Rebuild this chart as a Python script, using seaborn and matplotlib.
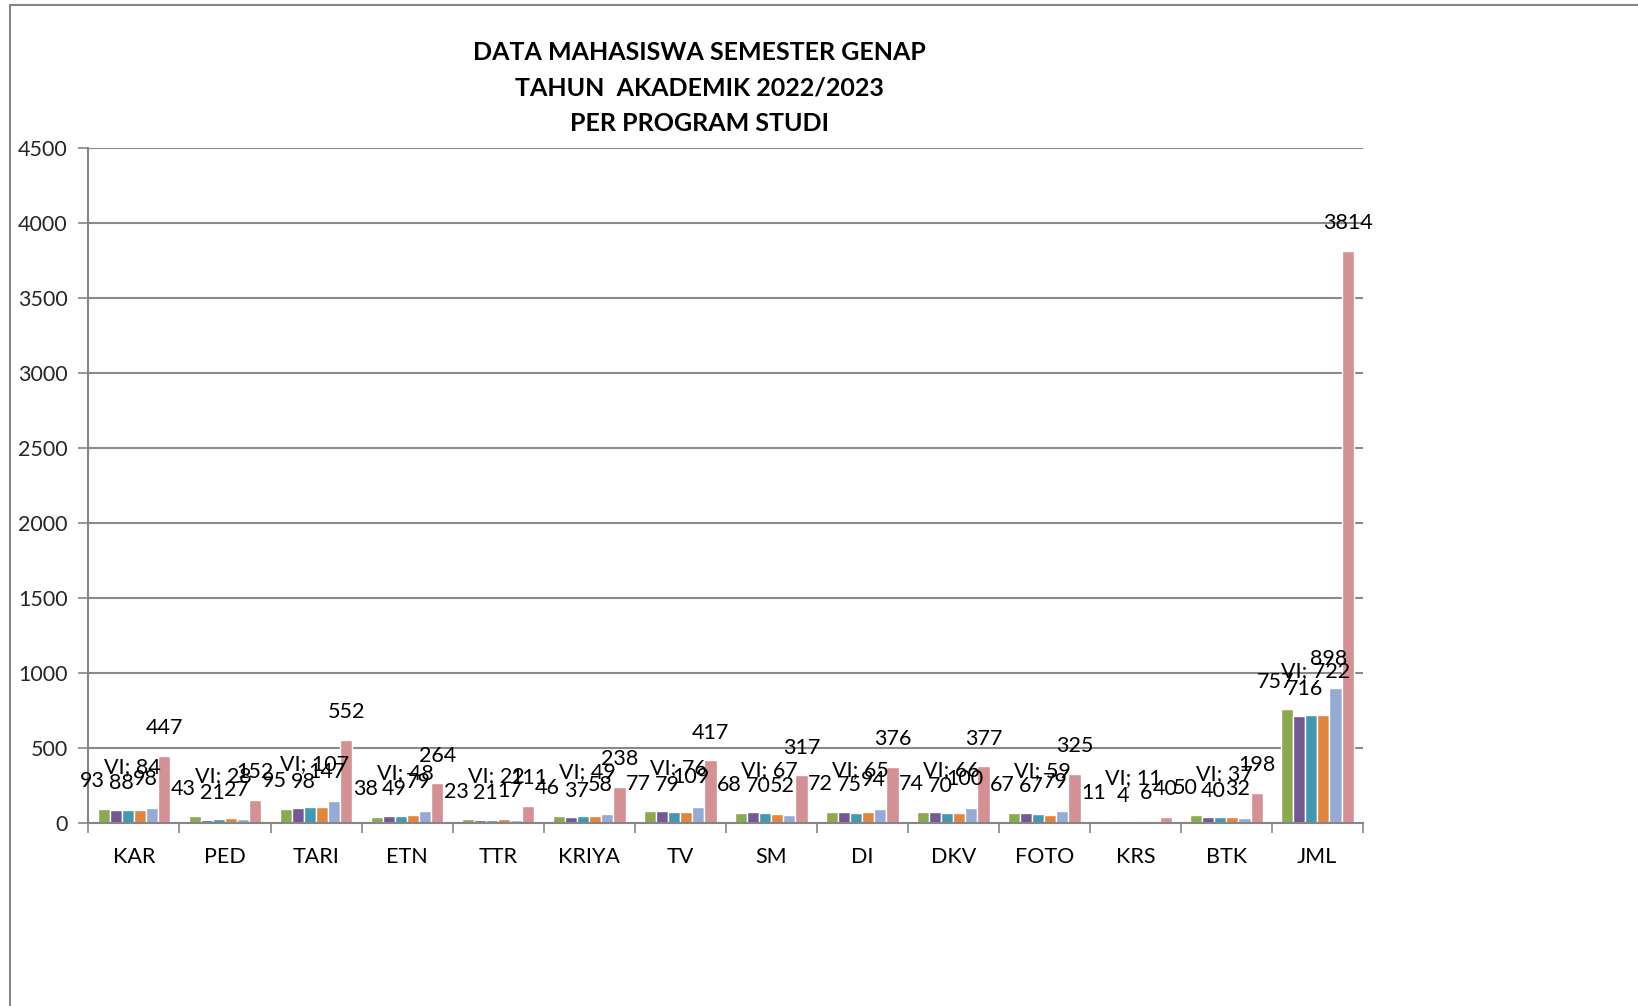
import matplotlib
matplotlib.use("Agg")
import matplotlib.pyplot as plt
from matplotlib.lines import Line2D
import seaborn as sns
import pandas as pd
import numpy as np

# ---------------- data ----------------
prodi = ["KAR", "PED", "TARI", "ETN", "TTR", "KRIYA", "TV", "SM", "DI", "DKV",
         "FOTO", "KRS", "BTK", "JML"]
series_names = ["II", "IV", "VI", "VIII", ">VIII", "JML"]
sem_II    = [93, 43, 95, 38, 23, 46, 77, 68, 72, 74, 67, 11, 50, 757]
sem_IV    = [88, 21, 98, 49, 21, 37, 79, 70, 75, 70, 67, 4, 40, 716]
sem_VI    = [84, 28, 107, 48, 22, 49, 76, 67, 65, 66, 59, 11, 37, 722]
sem_VIII  = [84, 33, 105, 50, 28, 48, 76, 60, 70, 67, 53, 8, 39, 721]
sem_gt    = [98, 27, 147, 79, 17, 58, 109, 52, 94, 100, 79, 6, 32, 898]
total     = [447, 152, 552, 264, 111, 238, 417, 317, 376, 377, 325, 40, 198, 3814]
y_ticks = [0, 500, 1000, 1500, 2000, 2500, 3000, 3500, 4000, 4500]
title_lines = ["DATA MAHASISWA SEMESTER GENAP", "TAHUN  AKADEMIK 2022/2023", "PER PROGRAM STUDI"]

colors = ["#8DA950", "#735895", "#4198AF", "#E1853D", "#95ABD3", "#D49194"]

all_series = [sem_II, sem_IV, sem_VI, sem_VIII, sem_gt, total]
rows = []
for name, vals in zip(series_names, all_series):
    for p, v in zip(prodi, vals):
        rows.append({"Prodi": p, "Semester": name, "Jumlah": v})
df = pd.DataFrame(rows)

# ---------------- plot ----------------
sns.set_theme(style="white")
plt.rcParams["font.family"] = ["Lato", "DejaVu Sans"]

fig = plt.figure(figsize=(16.38, 10.06), dpi=100)
ax = fig.add_axes([0.054, 0.182, 0.778, 0.671])

sns.barplot(data=df, x="Prodi", y="Jumlah", hue="Semester", order=prodi,
            hue_order=series_names, palette=colors, width=0.8, gap=0,
            errorbar=None, legend=False, ax=ax, saturation=1)

ax.set_xlim(-0.5, len(prodi) - 0.5)
ax.set_ylim(0, 4500)
ax.set_yticks(y_ticks)
ax.set_yticklabels([str(t) for t in y_ticks], fontsize=15.5)
ax.set_xticks(range(len(prodi)))
ax.set_xticklabels(prodi, fontsize=15.5)
ax.set_xticks(np.arange(-0.5, len(prodi)), minor=True)
ax.tick_params(axis="x", which="major", length=0, pad=17, colors="black")
ax.tick_params(axis="x", which="minor", length=7, width=1.2, color="#868686", direction="out", bottom=True)
ax.tick_params(axis="y", which="major", length=7, width=1.2, color="#868686", direction="out", left=True, pad=8)
ax.set_xlabel("")
ax.set_ylabel("")

ax.yaxis.grid(True, color="#8a8a8a", linewidth=1.5)
ax.set_axisbelow(True)
for s in ["top", "right"]:
    ax.spines[s].set_visible(False)
for s in ["left", "bottom"]:
    ax.spines[s].set_color("#868686")
    ax.spines[s].set_linewidth(1.5)

# data labels (series VIII has none, as in the reference)
x_off = [-8, 4, 3, 0, -5, 0]
y_off = [20, 19, 31, 0, 21, 20]
for i, cont in enumerate(ax.containers):
    if series_names[i] == "VIII":
        continue
    for bar, v in zip(cont, all_series[i]):
        txt = f"VI; {v}" if series_names[i] == "VI" else str(v)
        ax.annotate(txt, (bar.get_x() + bar.get_width() / 2, bar.get_height()),
                    xytext=(x_off[i], y_off[i]), textcoords="offset points",
                    ha="center", va="center", fontsize=15.5, color="black")

# title
for k, line in enumerate(title_lines):
    fig.text(0.427, 0.948 - k * 0.0355, line, ha="center", va="center",
             fontsize=18, fontweight="bold", color="black")

# outer frame
fig.add_artist(Line2D([10 / 1638, 1], [1 - 5 / 1006, 1 - 5 / 1006], color="#868686", lw=1.5,
                      transform=fig.transFigure))
fig.add_artist(Line2D([10 / 1638, 10 / 1638], [0, 1 - 5 / 1006], color="#868686", lw=1.5,
                      transform=fig.transFigure))

fig.savefig("out.png", dpi=100)
